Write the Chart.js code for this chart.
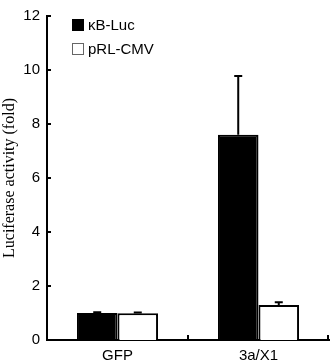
<!DOCTYPE html>
<html>
<head>
<meta charset="utf-8">
<script src="https://cdn.jsdelivr.net/npm/chart.js@4.4.1/dist/chart.umd.min.js"></script>
<style>
  html, body { margin: 0; padding: 0; background: #fff; }
  #wrap { width: 331px; height: 361px; }
</style>
</head>
<body>
<div id="wrap"><canvas id="chart" width="331" height="361"></canvas></div>
<script>
// data
const categories = ['GFP', '3a/X1'];
const seriesNames = ['\u03baB-Luc', 'pRL-CMV'];
const kbLuc = [1.0, 7.6];
const kbLucErr = [0.03, 2.18];
const prlCmv = [0.99, 1.3];
const prlCmvErr = [0.03, 0.1];
const yTicks = [0, 2, 4, 6, 8, 10, 12];

// error bars (upper only) + inward tick marks + legend
const extras = {
  id: 'extras',
  afterDatasetsDraw(chart) {
    const { ctx } = chart;
    const y = chart.scales.y;
    const x = chart.scales.x;
    const errs = [kbLucErr, prlCmvErr];
    ctx.save();
    ctx.strokeStyle = '#000';
    ctx.lineWidth = 2;
    chart.data.datasets.forEach((ds, di) => {
      chart.getDatasetMeta(di).data.forEach((bar, i) => {
        const top = y.getPixelForValue(ds.data[i] + errs[di][i]);
        const base = y.getPixelForValue(ds.data[i]);
        ctx.beginPath();
        ctx.moveTo(bar.x, base);
        ctx.lineTo(bar.x, top);
        ctx.moveTo(bar.x - 4, top);
        ctx.lineTo(bar.x + 4, top);
        ctx.stroke();
      });
    });
    // y ticks pointing inward
    yTicks.forEach(v => {
      const py = y.getPixelForValue(v);
      ctx.beginPath();
      ctx.moveTo(x.left, py);
      ctx.lineTo(x.left + 4, py);
      ctx.stroke();
    });
    // x ticks at category boundaries, pointing up
    const bounds = [];
    for (let i = 0; i < categories.length - 1; i++) {
      bounds.push((x.getPixelForTick(i) + x.getPixelForTick(i + 1)) / 2);
    }
    bounds.push(x.right - 1);
    bounds.forEach(px => {
      ctx.beginPath();
      ctx.moveTo(px, y.bottom);
      ctx.lineTo(px, y.bottom - 5);
      ctx.stroke();
    });
    // legend
    ctx.font = '15px "Liberation Sans", Arial, sans-serif';
    ctx.textBaseline = 'middle';
    chart.data.datasets.forEach((ds, di) => {
      const ly = 25 + di * 24;
      ctx.fillStyle = ds.backgroundColor;
      ctx.fillRect(72, ly - 6, 12, 12);
      ctx.lineWidth = 1;
      ctx.strokeStyle = di === 0 ? '#000' : '#666';
      ctx.strokeRect(72.5, ly - 5.5, 11, 11);
      ctx.fillStyle = '#000';
      ctx.fillText(ds.label, 88, ly + 1);
    });
    ctx.restore();
  }
};

new Chart(document.getElementById('chart').getContext('2d'), {
  type: 'bar',
  data: {
    labels: categories,
    datasets: [
      {
        label: seriesNames[0],
        data: kbLuc,
        backgroundColor: '#000',
        borderColor: '#000',
        borderWidth: 2,
        borderSkipped: 'bottom',
      },
      {
        label: seriesNames[1],
        data: prlCmv,
        backgroundColor: '#fff',
        borderColor: '#000',
        borderWidth: 2,
        borderSkipped: 'bottom',
      }
    ]
  },
  options: {
    responsive: false,
    animation: false,
    categoryPercentage: 0.575,
    barPercentage: 1.0,
    layout: { padding: { top: 7, right: 2, left: 0, bottom: 0 } },
    plugins: {
      legend: { display: false },
      tooltip: { enabled: false }
    },
    scales: {
      x: {
        grid: { display: false, drawTicks: false },
        border: { display: true, color: '#000', width: 2 },
        ticks: {
          color: '#000',
          padding: 7,
          font: { family: '"Liberation Sans", Arial, sans-serif', size: 15 }
        },
        afterFit: s => { s.height = 21; }
      },
      y: {
        min: 0,
        max: 12,
        grid: { display: false, drawTicks: false },
        border: { display: true, color: '#000', width: 2 },
        afterBuildTicks: s => { s.ticks = yTicks.map(v => ({ value: v })); },
        ticks: {
          color: '#000',
          padding: 7,
          font: { family: '"Liberation Sans", Arial, sans-serif', size: 15 }
        },
        title: {
          display: true,
          text: 'Luciferase activity (fold)',
          color: '#000',
          padding: 0,
          font: { family: '"Liberation Serif", "Times New Roman", serif', size: 16 }
        },
        afterFit: s => { s.width = 47; }
      }
    }
  },
  plugins: [extras]
});
</script>
</body>
</html>
